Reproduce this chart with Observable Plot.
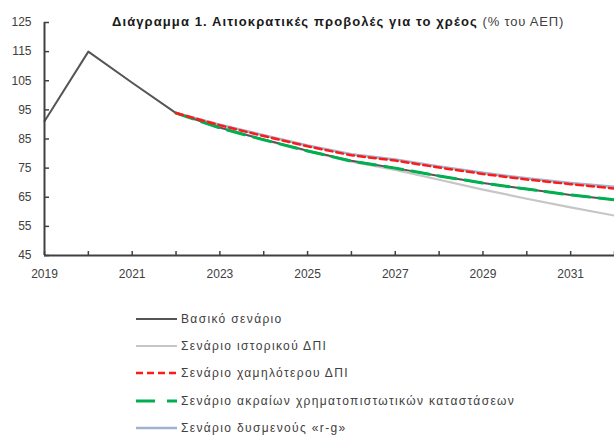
<!DOCTYPE html>
<html><head><meta charset="utf-8">
<script src="https://cdn.jsdelivr.net/npm/d3@7"></script>
<script src="https://cdn.jsdelivr.net/npm/@observablehq/plot@0.6"></script>
<style>
body{margin:0;background:#fff;font-family:"Liberation Sans",Arial,sans-serif}
#wrap{position:relative;width:614px;height:436px;overflow:hidden}
#chart{position:absolute;left:0;top:0}
#title{position:absolute;left:112px;top:14px;font-size:13px;color:#1a1a1a;white-space:nowrap;letter-spacing:1.1px}
#title b{font-weight:bold}
#title span{color:#404040;letter-spacing:0.8px}
#legend{position:absolute;left:136px;top:305px}
.row{display:flex;align-items:center;height:27.3px}
.row svg{display:block;width:42px;height:8px;margin-right:3px}
.row div{font-size:12px;color:#404040;letter-spacing:1.35px;white-space:nowrap}
</style></head>
<body><div id="wrap"><div id="chart"></div>
<div id="title"><b>Διάγραμμα 1. Αιτιοκρατικές προβολές για το χρέος</b> <span>(% του ΑΕΠ)</span></div>
<div id="legend"></div></div>
<script>
const years = [2019,2020,2021,2022,2023,2024,2025,2026,2027,2028,2029,2030,2031,2032];
const labelYears = [2019,2021,2023,2025,2027,2029,2031];
const yTicks = [45,55,65,75,85,95,105,115,125];
const seriesNames = ["Βασικό σενάριο","Σενάριο ιστορικού ΔΠΙ","Σενάριο χαμηλότερου ΔΠΙ","Σενάριο ακραίων χρηματοπιστωτικών καταστάσεων","Σενάριο δυσμενούς «r-g»"];
const baseline   = [91.1,115.0,104.3,93.9,88.9,84.8,81.0,77.5,75.0,72.3,69.9,67.8,65.8,64.1];
const historical = [null,null,null,93.9,88.9,84.7,80.8,77.2,74.4,71.0,67.6,64.5,61.5,58.7];
const lowerGdp   = [null,null,null,93.9,89.7,86.0,82.5,79.4,77.6,75.2,73.0,71.1,69.5,68.0];
const extreme    = [null,null,null,93.9,88.8,84.7,80.9,77.4,75.0,72.3,69.9,67.8,65.8,64.1];
const adverseRg  = [null,null,null,93.9,89.9,86.3,82.8,79.8,78.0,75.6,73.4,71.5,69.9,68.6];

const styles = [
  {stroke:"#555555", strokeWidth:2},
  {stroke:"#c6c6c6", strokeWidth:2.2},
  {stroke:"#ff1a1a", strokeWidth:2.5, strokeDasharray:"7,4"},
  {stroke:"#00b050", strokeWidth:3, strokeDasharray:"18,9"},
  {stroke:"#9fb3cf", strokeWidth:2.5}
];
const seriesVals = [baseline, historical, lowerGdp, extreme, adverseRg];
const tidy = arr => years.map((x,i)=>({x, y:arr[i]})).filter(d=>d.y!=null);
const order = [1,4,0,3,2];

const chart = Plot.plot({
  width:614, height:295,
  marginLeft:44, marginRight:0, marginTop:22, marginBottom:40,
  x:{domain:[2019,2032], label:null},
  y:{domain:[45,125], label:null},
  style:{fontFamily:"Liberation Sans, Arial, sans-serif", fontSize:"12px", background:"#fff", overflow:"visible"},
  marks:[
    Plot.axisY({ticks:yTicks, tickSize:0, tickPadding:13, tickFormat:d=>String(d), color:"#404040", fontSize:12}),
    Plot.axisY({ticks:yTicks, tickSize:5, dx:5, tickFormat:()=>"", stroke:"#404040", strokeWidth:1.5}),
    Plot.axisX({ticks:labelYears, tickSize:0, tickPadding:14, tickFormat:d=>String(d), color:"#404040", fontSize:12}),
    Plot.axisX({ticks:years, tickSize:4, dy:-4, tickFormat:()=>"", stroke:"#404040", strokeWidth:1.5}),
    ...order.map(k => Plot.line(tidy(seriesVals[k]), {x:"x", y:"y", ...styles[k]})),
    Plot.ruleX([2019], {y1:45, y2:125, stroke:"#404040", strokeWidth:2}),
    Plot.ruleY([45], {x1:2019, x2:2032, stroke:"#404040", strokeWidth:2})
  ]
});
document.getElementById("chart").appendChild(chart);

const lg = document.getElementById("legend");
seriesNames.forEach((name,k)=>{
  const s = styles[k];
  const row = document.createElement("div"); row.className="row";
  row.innerHTML = `<svg viewBox="0 0 42 8"><line x1="0" y1="4" x2="41" y2="4" stroke="${s.stroke}" stroke-width="${s.strokeWidth}" ${s.strokeDasharray?`stroke-dasharray="${k===3?'19,12':'7,4'}"`:""}/></svg><div>${name}</div>`;
  lg.appendChild(row);
});
</script></body></html>
